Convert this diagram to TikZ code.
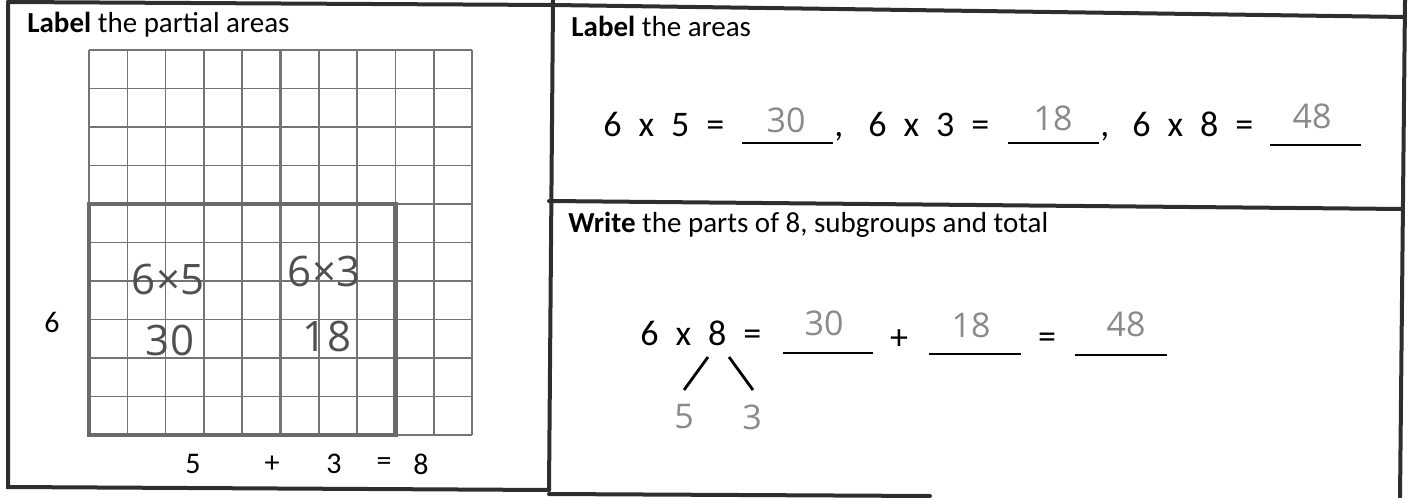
\documentclass[tikz,border=0pt]{standalone}
\usepackage{fontspec}
\setmainfont{Carlito}
\newfontfamily\handfont{Open Sans}
\definecolor{inkgrey}{HTML}{2E2E2E}
\definecolor{gridgrey}{HTML}{747474}
\definecolor{boxgrey}{HTML}{6A6A6A}
\definecolor{pencil}{HTML}{505050}
\definecolor{penlight}{HTML}{8A8A8A}
\newcommand\eqfont{\fontsize{18}{21}\selectfont\spaceskip=8.5pt\relax}
\newcommand\headfont{\fontsize{14.5}{17}\selectfont}

\begin{document}
\begin{tikzpicture}[x=0.5pt, y=-0.5pt,
  frame/.style={line width=2pt, draw=inkgrey, line cap=round},
  gridline/.style={line width=0.8pt, draw=gridgrey},
  midline/.style={line width=1.5pt, draw=gridgrey},
  areabox/.style={line width=2.4pt, draw=boxgrey},
  blank/.style={line width=1.3pt, draw=black},
  leg/.style={line width=1.4pt, draw=black},
  head/.style={anchor=base west, inner sep=0pt, font=\headfont},
  eq/.style={anchor=base west, inner sep=0pt, font=\eqfont},
  sym/.style={inner sep=0pt, font=\fontsize{15}{18}\selectfont},
  grid hand/.style={inner sep=0pt, text=pencil, font=\handfont\fontsize{21}{24}\selectfont},
  hand/.style={inner sep=0pt, text=penlight, font=\handfont\fontsize{17}{20}\selectfont}]
  \useasboundingbox (0,0) rectangle (1416,497);

  % table frame
  \draw[frame] (8,2) -- (553,5) -- (1405,17);
  \draw[frame] (8,2) -- (8,487) -- (549,490);
  \draw[frame] (553,0) -- (549,490);
  \draw[frame] (1405,0) -- (1400,497);
  \draw[frame] (549,201) -- (1403,209);
  \draw[frame] (549,494) -- (930,496);

  % left cell: grid
  \foreach \i in {0,...,10}
    \draw[gridline] (89+\i*38.3,50) -- (89+\i*38.3,435);
  \foreach \j in {0,...,10}
    \draw[gridline] (89,50+\j*38.5) -- (472,50+\j*38.5);
  \draw[midline] (280.5,50) -- (280.5,435);
  \draw[areabox] (89,204) rectangle (395.4,435);

  \node[head] (parthead) at (27,33) {\textbf{Label} the partial areas};
  \node[grid hand] (fivearea) at (168,279) {6×5};
  \node[grid hand] (fiveval) at (170,340) {30};
  \node[grid hand] (threearea) at (324,271) {6×3};
  \node[grid hand] (threeval) at (327,336) {18};
  \node[sym] (sidesix) at (52,322) {6};
  \node[sym] (topfive) at (193,464) {5};
  \node[sym] (topplus) at (272,464) {+};
  \node[sym] (topthree) at (334,464) {3};
  \node[sym] (topeq) at (384,464) {=};
  \node[sym] (topeight) at (421,464) {8};

  % right cell, top
  \node[head] (areahead) at (571,37) {\textbf{Label} the areas};
  \node[eq] (eqa) at (603,137) {6 x 5 =};
  \draw[blank] (742,143) -- (833,143);
  \node[eq] (comma1) at (834,137) {,};
  \node[hand] (ansa) at (786,120) {30};
  \node[eq] (eqb) at (868,137) {6 x 3 =};
  \draw[blank] (1008,143) -- (1099,143);
  \node[eq] (comma2) at (1100,137) {,};
  \node[hand] (ansb) at (1053,118) {18};
  \node[eq] (eqc) at (1132,137) {6 x 8 =};
  \draw[blank] (1270,145) -- (1361,145);
  \node[hand] (ansc) at (1312,116) {48};

  % right cell, bottom
  \node[head] (partshead) at (568,232) {\textbf{Write} the parts of 8, subgroups and total};
  \node[eq] (eqd) at (640,345) {6 x 8 =};
  \draw[blank] (783,353) -- (873,353);
  \node[hand] (sumA) at (824,323) {30};
  \node[sym, font=\eqfont] (plus) at (899,340) {+};
  \draw[blank] (929,354) -- (1021,354);
  \node[hand] (sumB) at (971,325) {18};
  \node[sym, font=\eqfont] (equal) at (1047,341) {=};
  \draw[blank] (1075,355) -- (1167,355);
  \node[hand] (sumC) at (1126,324) {48};

  \coordinate (splitL) at (708,357);
  \coordinate (splitR) at (729,357);
  \coordinate (footL) at (684,390);
  \coordinate (footR) at (753,390);
  \draw[leg] (splitL) -- (footL);
  \draw[leg] (splitR) -- (footR);
  \node[hand] (partfive) at (684,417) {5};
  \node[hand] (partthree) at (752,417) {3};
\end{tikzpicture}
\end{document}
